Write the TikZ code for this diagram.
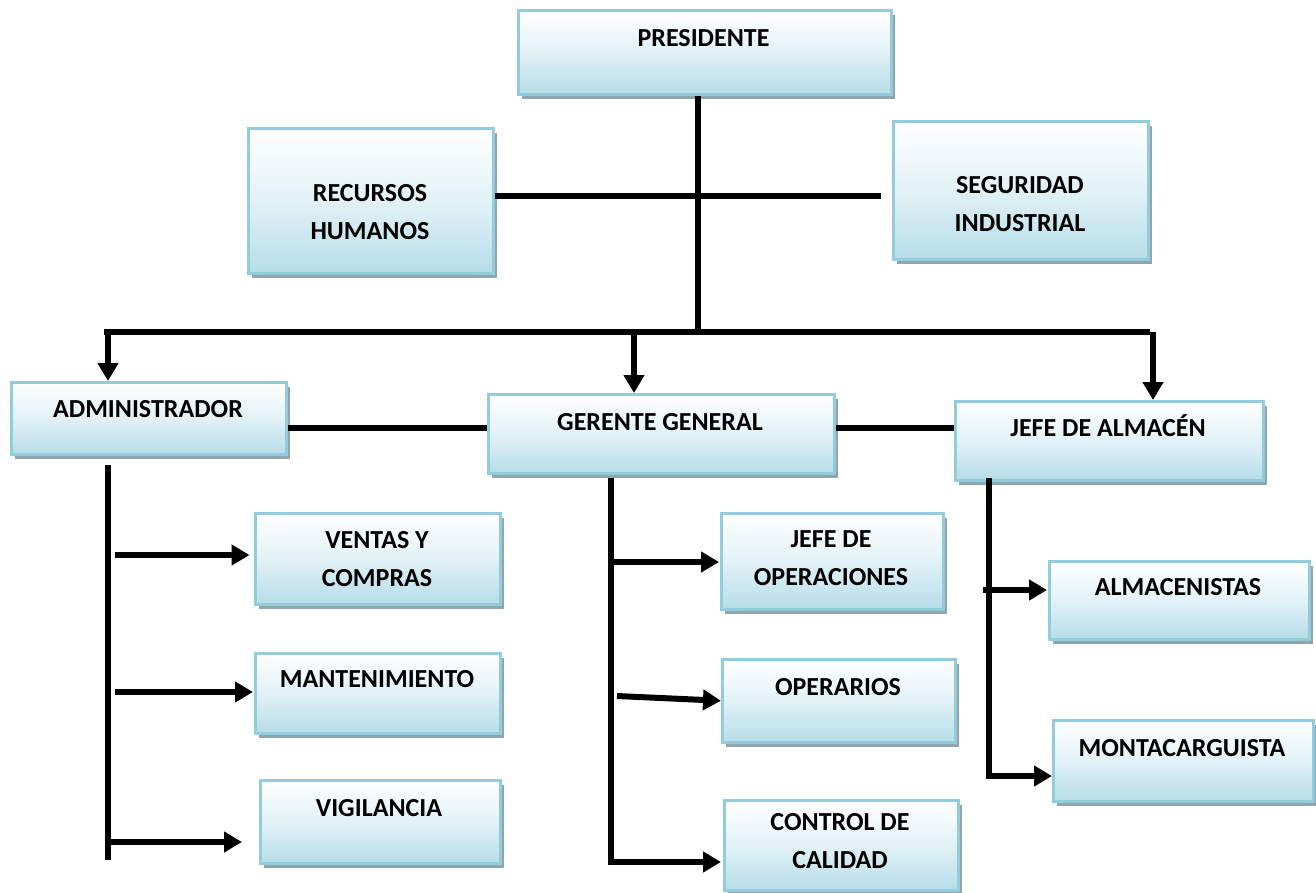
\documentclass[tikz,border=0pt]{standalone}
\usepackage{fontspec}
\setmainfont{Carlito}
\usetikzlibrary{arrows.meta,shadows}
\definecolor{boxedge}{HTML}{93CDDD}
\definecolor{boxfill}{HTML}{B6DDE8}
\definecolor{boxshade}{HTML}{8FA7AC}
\tikzset{
  orgbox/.style={draw=boxedge, line width=2.5pt,
    top color=white, bottom color=boxfill, middle color=boxfill!40!white,
    drop shadow={shadow xshift=4pt, shadow yshift=-5pt, fill=boxshade, opacity=1},
    inner sep=0pt, anchor=north west},
  lbl/.style={font=\fontsize{26}{37.5}\selectfont\bfseries, align=center,
    inner sep=0pt, anchor=base},
  link/.style={line width=6pt, draw=black, line join=miter},
  arrow/.style={link, -{Triangle[length=18pt,width=20pt]}},
}
% box from its top-left to its bottom-right corner
\newcommand{\orgbox}[5]{%
  \node[orgbox, minimum width={(#4-#2)*1pt}, minimum height={(#5-#3)*1pt}] (#1) at (#2,#3) {};}

\begin{document}
\begin{tikzpicture}[x=1pt,y=-1pt]
\fill[white] (0,0) rectangle (1316,892);
\useasboundingbox (0,0) rectangle (1316,892);

% boxes
\orgbox{pres}{517}{9}{890}{93}
\orgbox{rh}{247}{127}{492}{272}
\orgbox{seg}{892}{120}{1147}{258}
\orgbox{admin}{10}{381}{285}{453}
\orgbox{ger}{487}{393}{833}{472}
\orgbox{ja}{954}{400}{1262}{479}
\orgbox{vc}{254}{512}{499}{603}
\orgbox{mant}{254}{652}{499}{732}
\orgbox{vig}{259}{779}{499}{862}
\orgbox{jo}{720}{512}{942}{608}
\orgbox{oper}{721}{658}{954}{741}
\orgbox{cc}{723}{799}{957}{889}
\orgbox{alm}{1048}{560}{1308}{638}
\orgbox{mont}{1052}{719}{1312}{800}

% labels (placed by the baseline of their last line)
\node[lbl] (pres-t) at (703.5,46) {PRESIDENTE};
\node[lbl] (rh-t) at (370,239) {RECURSOS\\HUMANOS};
\node[lbl] (seg-t) at (1020,231) {SEGURIDAD\\INDUSTRIAL};
\node[lbl] (admin-t) at (148,417) {ADMINISTRADOR};
\node[lbl] (ger-t) at (660,430) {GERENTE GENERAL};
\node[lbl] (ja-t) at (1108,436) {JEFE DE ALMACÉN};
\node[lbl] (vc-t) at (377,586) {VENTAS Y\\COMPRAS};
\node[lbl] (mant-t) at (377,687) {MANTENIMIENTO};
\node[lbl] (vig-t) at (379,816) {VIGILANCIA};
\node[lbl] (jo-t) at (831,585) {JEFE DE\\OPERACIONES};
\node[lbl] (oper-t) at (838,695) {OPERARIOS};
\node[lbl] (cc-t) at (840,868) {CONTROL DE\\CALIDAD};
\node[lbl] (alm-t) at (1178,595) {ALMACENISTAS};
\node[lbl] (mont-t) at (1182,756) {MONTACARGUISTA};

% main spine and staff line
\coordinate (spine) at (698,332);
\coordinate (staff) at (0,196);
\draw[link] (pres.south -| spine) -- (spine);
\draw[link] (rh.east |- staff) -- ([xshift=-11pt]seg.west |- staff);

% distribution bus
\coordinate (busL) at (104,332);
\coordinate (dropA) at (108,332);
\coordinate (dropG) at (634,332);
\coordinate (dropJ) at (1150,332);
\draw[link] (busL) -- (dropJ);
\draw[arrow] (dropA) -- (dropA |- admin.north);
\draw[arrow] (dropG) -- (dropG |- ger.north);
\draw[arrow] ([xshift=3pt]dropJ) -- ([xshift=3pt]dropJ |- ja.north);

% links between the three managers
\coordinate (mid) at (0,428);
\draw[link] (admin.east |- mid) -- (ger.west |- mid);
\draw[link] (ger.east |- mid) -- (ja.west |- mid);

% administrador branch
\coordinate (a0) at (108,465);
\coordinate (a9) at (108,860);
\coordinate (a1) at (115,555);
\coordinate (a2) at (115,692);
\coordinate (a3) at (108,842);
\draw[link] (a0) -- (a9);
\draw[arrow, shorten >=4.5pt] (a1) -- (a1 -| vc.west);
\draw[arrow, shorten >=1pt] (a2) -- (a2 -| mant.west);
\draw[arrow, shorten >=17pt] (a3) -- (a3 -| vig.west);

% gerente general branch
\coordinate (g0) at (611,478);
\coordinate (gb) at (611,862);
\coordinate (g1) at (611,562);
\coordinate (g2) at (617,696);
\draw[arrow, shorten >=2pt] (g0) -- (gb) -- (gb -| cc.west);
\draw[arrow, shorten >=1pt] (g1) -- (g1 -| jo.west);
\draw[arrow] (g2) -- (oper.west);

% jefe de almacen branch
\coordinate (j0) at (989,478);
\coordinate (jb) at (989,776);
\coordinate (j1) at (983,590);
\draw[arrow] (j0) -- (jb) -- (jb -| mont.west);
\draw[arrow, shorten >=1pt] (j1) -- (j1 -| alm.west);
\end{tikzpicture}
\end{document}
